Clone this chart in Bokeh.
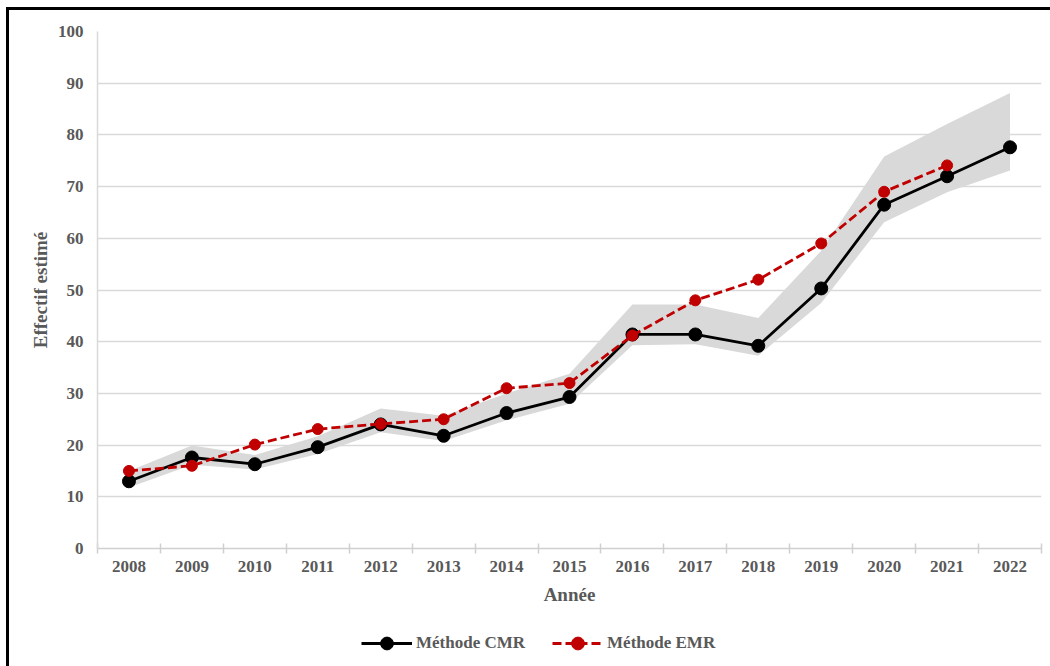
from bokeh.plotting import figure
from bokeh.models import FixedTicker, Legend, LegendItem, ColumnDataSource, Range1d
from bokeh.layouts import column
from bokeh.embed import file_html
from bokeh.resources import INLINE

years = list(range(2008, 2023))
cmr = [13.0, 17.6, 16.3, 19.6, 24.0, 21.8, 26.2, 29.3, 41.4, 41.4, 39.2, 50.3, 66.5, 72.0, 77.6]
cmr_low = [11.8, 16.2, 15.3, 18.3, 22.5, 20.8, 24.8, 28.0, 39.3, 39.5, 37.3, 47.5, 63.1, 68.9, 73.1]
cmr_high = [15.0, 19.9, 18.1, 21.7, 27.1, 25.7, 30.0, 33.8, 47.2, 47.2, 44.6, 57.6, 75.8, 82.1, 88.1]
emr_years = list(range(2008, 2022))
emr = [15.0, 16.0, 20.1, 23.1, 24.1, 25.0, 31.0, 32.0, 41.2, 48.0, 52.0, 59.0, 69.0, 74.1]
series_names = ["Méthode CMR", "Méthode EMR"]

TXT = "#595959"
FONT = "Liberation Serif"
BLACK = "black"
RED = "#c00000"

p = figure(width=1041, height=610, output_backend="svg", toolbar_location=None,
           x_range=Range1d(2007.5, 2022.5), y_range=Range1d(0, 100),
           min_border_left=88, min_border_right=9, min_border_top=21, min_border_bottom=72)
p.outline_line_color = None
p.background_fill_color = "white"
p.border_fill_color = "white"

src = ColumnDataSource(dict(x=years, y=cmr, lo=cmr_low, hi=cmr_high))
src2 = ColumnDataSource(dict(x=emr_years, y=emr))

p.varea(x="x", y1="lo", y2="hi", source=src, fill_color="#d9d9d9", fill_alpha=1.0)
p.line("x", "y", source=src, line_color=BLACK, line_width=2.8)
p.scatter("x", "y", source=src, size=13, fill_color=BLACK, line_color=BLACK)
p.line("x", "y", source=src2, line_color=RED, line_width=2.8, line_dash="9 4")
p.scatter("x", "y", source=src2, size=11, fill_color=RED, line_color=RED)

# x axis
p.xaxis.ticker = FixedTicker(ticks=years, minor_ticks=[y - 0.5 for y in years] + [2022.5])
p.xaxis.major_tick_in = 0
p.xaxis.major_tick_out = 0
p.xaxis.minor_tick_in = 5
p.xaxis.minor_tick_out = 5
p.xaxis.minor_tick_line_color = "#d0d0d0"
p.xaxis.minor_tick_line_width = 1.5
p.xaxis.axis_line_color = "#d0d0d0"
p.xaxis.axis_line_width = 1.5
p.xaxis.axis_label = "Année"
p.xaxis.major_label_standoff = 7
p.xaxis.axis_label_standoff = 9
p.xgrid.grid_line_color = None

# y axis
p.yaxis.ticker = FixedTicker(ticks=list(range(0, 101, 10)))
p.yaxis.major_tick_in = 0
p.yaxis.major_tick_out = 0
p.yaxis.minor_tick_line_color = None
p.yaxis.axis_line_color = "#d9d9d9"
p.yaxis.axis_line_width = 1.5
p.yaxis.axis_label = "Effectif estimé"
p.yaxis.major_label_standoff = 14
p.yaxis.axis_label_standoff = 4
p.ygrid.grid_line_color = "#d9d9d9"
p.ygrid.grid_line_width = 1.5

for ax in (p.xaxis, p.yaxis):
    ax.major_label_text_font = FONT
    ax.major_label_text_font_style = "bold"
    ax.major_label_text_font_size = "17px"
    ax.major_label_text_color = TXT
    ax.axis_label_text_font = FONT
    ax.axis_label_text_font_style = "bold"
    ax.axis_label_text_font_size = "19px"
    ax.axis_label_text_color = TXT

# legend strip below the chart
p2 = figure(width=1041, height=46, output_backend="svg", toolbar_location=None,
            x_range=Range1d(0, 1), y_range=Range1d(0, 1),
            x_axis_location=None, y_axis_location=None,
            min_border_left=88, min_border_right=9, min_border_top=0, min_border_bottom=0)
p2.outline_line_color = None
p2.grid.grid_line_color = None
p2.background_fill_color = "white"
p2.border_fill_color = "white"
# same data sources; out of this strip's ranges, so only the legend samples show
g1 = p2.line("x", "y", source=src, line_color=BLACK, line_width=2.8)
h1 = p2.scatter("x", "y", source=src, size=13, fill_color=BLACK, line_color=BLACK)
g2 = p2.line("x", "y", source=src2, line_color=RED, line_width=2.8, line_dash="9 4")
h2 = p2.scatter("x", "y", source=src2, size=11, fill_color=RED, line_color=RED)

legend = Legend(items=[LegendItem(label=series_names[0], renderers=[g1, h1]),
                       LegendItem(label=series_names[1], renderers=[g2, h2])],
                orientation="horizontal", location=(264, 7),
                glyph_width=51, glyph_height=32, label_standoff=4, spacing=27,
                padding=0, margin=0, border_line_color=None, background_fill_alpha=0,
                label_text_font=FONT, label_text_font_style="bold",
                label_text_font_size="17px", label_text_color=TXT)
p2.add_layout(legend, "center")

layout = column(p, p2, spacing=0,
                styles={"margin-left": "6px", "margin-top": "7px",
                        "border-left": "3px solid black", "border-top": "3px solid black"})

open("out.html", "w").write(file_html(layout, INLINE))
